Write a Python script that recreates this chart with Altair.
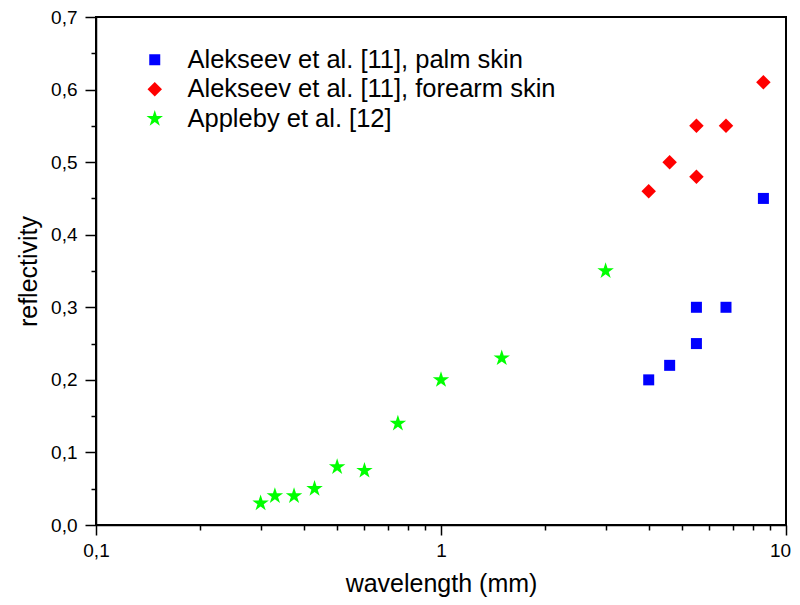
import altair as alt
import pandas as pd

# Data
palm_x = [4.0, 4.6, 5.5, 5.5, 6.7, 8.6]
palm_y = [0.20, 0.22, 0.25, 0.30, 0.30, 0.45]
forearm_x = [4.0, 4.6, 5.5, 5.5, 6.7, 8.6]
forearm_y = [0.46, 0.50, 0.48, 0.55, 0.55, 0.61]
appleby_x = [0.30, 0.33, 0.375, 0.43, 0.50, 0.60, 0.75, 1.0, 1.5, 3.0]
appleby_y = [0.03, 0.04, 0.04, 0.05, 0.08, 0.075, 0.14, 0.20, 0.23, 0.35]

STAR = ("M0,-1L0.2245,-0.309L0.951,-0.309L0.363,0.118L0.588,0.809L0,0.382"
        "L-0.588,0.809L-0.363,0.118L-0.951,-0.309L-0.2245,-0.309Z")

series_names = ["Alekseev et al. [11], palm skin",
                "Alekseev et al. [11], forearm skin",
                "Appleby et al. [12]"]
series_colors = ["#0000ff", "#ff0000", "#00ff00"]
series_shapes = ["square", "diamond", STAR]
series_sizes = [121, 300, 220]

x_ticks = [0.1, 0.2, 0.3, 0.4, 0.5, 0.6, 0.7, 0.8, 0.9,
           1, 2, 3, 4, 5, 6, 7, 8, 9, 10]
y_ticks = [0.0, 0.05, 0.1, 0.15, 0.2, 0.25, 0.3, 0.35, 0.4, 0.45,
           0.5, 0.55, 0.6, 0.65, 0.7]

rows = []
for name, xs, ys in zip(series_names,
                        [palm_x, forearm_x, appleby_x],
                        [palm_y, forearm_y, appleby_y]):
    for xv, yv in zip(xs, ys):
        rows.append({"series": name, "wavelength": xv, "reflectivity": yv})
df = pd.DataFrame(rows)

FONT = "Liberation Sans"

x_major_test = "abs(log(datum.value)/LN10 - round(log(datum.value)/LN10)) < 0.001"
y_major_test = "abs(datum.value*10 - round(datum.value*10)) < 0.001"

x_axis = alt.Axis(
    values=x_ticks,
    labelExpr=f"{x_major_test} ? replace(toString(datum.value), '.', ',') : ''",
    tickSize={"condition": {"test": x_major_test, "value": 10}, "value": 5},
    labelOffset={"condition": {"test": "datum.value > 9.5", "value": -6}, "value": 0},
    labelOverlap=False, labelFlush=False, grid=False,
    title="wavelength (mm)", titleY=58, titleBaseline="middle",
    labelPadding=6,
)
y_axis = alt.Axis(
    values=y_ticks,
    labelExpr=f"{y_major_test} ? replace(format(datum.value, '.1f'), '.', ',') : ''",
    tickSize={"condition": {"test": y_major_test, "value": 11}, "value": 5},
    labelOverlap=False, grid=False,
    title="reflectivity", titleX=-68, titleY=254, titleBaseline="middle",
    labelPadding=8,
)

chart = alt.Chart(df).mark_point(filled=True, opacity=1, strokeWidth=0).encode(
    x=alt.X("wavelength:Q", scale=alt.Scale(type="log", domain=[0.1, 10], nice=False), axis=x_axis),
    y=alt.Y("reflectivity:Q", scale=alt.Scale(domain=[0, 0.7], nice=False, zero=False), axis=y_axis),
    color=alt.Color("series:N", scale=alt.Scale(domain=series_names, range=series_colors),
                    legend=alt.Legend(title=None, orient="none", legendX=46, legendY=30,
                                      labelFontSize=25.5, labelFont=FONT, symbolSize=220,
                                      labelOffset=20, rowPadding=2.5, padding=0,
                                      symbolStrokeWidth=0, labelLimit=500)),
    shape=alt.Shape("series:N", scale=alt.Scale(domain=series_names, range=series_shapes)),
    size=alt.Size("series:N", scale=alt.Scale(domain=series_names, range=series_sizes), legend=None),
).properties(
    width=690, height=508,
    autosize=alt.AutoSizeParams(type="none"),
    padding={"left": 88, "top": 9, "right": 6, "bottom": 72},
).configure_view(
    stroke="black", strokeWidth=2
).configure_axis(
    domainColor="black", domainWidth=1.5, tickColor="black", tickWidth=1.5,
    labelFont=FONT, labelFontSize=19, labelColor="black",
    titleFont=FONT, titleFontSize=25, titleFontWeight="normal", titleColor="black",
)

chart.save("out.html", embed_options={"renderer": "svg", "actions": False})
